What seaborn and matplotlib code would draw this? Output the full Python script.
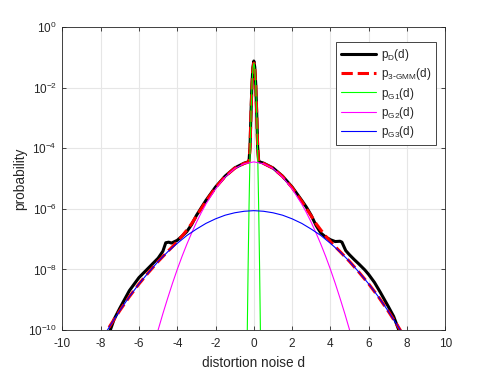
import numpy as np
import pandas as pd
import seaborn as sns
import matplotlib.pyplot as plt

d_meas = [-7.55, -7.3, -7.0, -6.5, -6.0, -5.5, -5.0, -4.75, -4.6, -4.45, -4.3, -4.0,
          -3.75, -3.5, -3.25, -3.0, -2.75, -2.5, -2.0, -1.5, -1.0, -0.5, -0.3, -0.25,
          -0.2, -0.15, -0.1, -0.05, 0.0, 0.05, 0.1, 0.15, 0.2, 0.25, 0.3, 0.5, 1.0,
          1.5, 2.0, 2.5, 2.75, 3.0, 3.25, 3.5, 3.75, 4.0, 4.25, 4.5, 4.6, 4.8, 5.0,
          5.25, 5.5, 5.8, 6.0, 6.3, 6.6, 7.0, 7.3, 7.6]
logp_meas = [-10.1, -9.65, -9.28, -8.70, -8.27, -7.95, -7.63, -7.40, -7.12, -7.10,
             -7.13, -7.04, -6.90, -6.75, -6.52, -6.22, -5.97, -5.72, -5.28, -4.92,
             -4.65, -4.49, -4.45, -4.40, -3.95, -2.85, -1.90, -1.33, -1.12, -1.33,
             -1.90, -2.85, -3.95, -4.40, -4.45, -4.49, -4.65, -4.92, -5.28, -5.72,
             -5.95, -6.22, -6.55, -6.80, -6.93, -7.02, -7.08, -7.07, -7.10, -7.38,
             -7.52, -7.68, -7.83, -8.02, -8.17, -8.43, -8.75, -9.20, -9.55, -10.05]

# 3-GMM fit (red dashed)
d_gmm = [-8, -7.5, -7, -6.5, -6, -5.5, -5, -4.5, -4.25, -4, -3.75, -3.5, -3.25, -3,
         -2.75, -2.5, -2, -1.5, -1, -0.5, -0.3, -0.25, -0.2, -0.15, -0.1, -0.05, 0,
         0.05, 0.1, 0.15, 0.2, 0.25, 0.3, 0.5, 1, 1.5, 2, 2.5, 2.75, 3, 3.25, 3.5,
         3.75, 4, 4.25, 4.5, 5, 5.5, 6, 6.5, 7, 7.5, 8]
logp_gmm = [-10.37, -9.85, -9.36, -8.90, -8.48, -8.10, -7.74, -7.41, -7.25, -7.08,
            -6.90, -6.70, -6.49, -6.24, -6.00, -5.75, -5.30, -4.93, -4.66, -4.50,
            -4.46, -4.44, -4.00, -2.87, -1.94, -1.38, -1.19, -1.38, -1.94, -2.87,
            -4.00, -4.44, -4.46, -4.50, -4.66, -4.93, -5.30, -5.75, -6.00, -6.24,
            -6.49, -6.70, -6.90, -7.08, -7.25, -7.41, -7.74, -8.10, -8.48, -8.90,
            -9.36, -9.85, -10.37]

# component 1 (green)
d_g1 = [-0.4, -0.35, -0.3, -0.25, -0.2, -0.15, -0.1, -0.05, 0, 0.05, 0.1, 0.15,
        0.2, 0.25, 0.3, 0.35, 0.4]
logp_g1 = [-13.19, -10.38, -7.94, -5.88, -4.19, -2.88, -1.94, -1.38, -1.19, -1.38,
           -1.94, -2.88, -4.19, -5.88, -7.94, -10.38, -13.19]

# component 2 (magenta)
d_g2 = [-5.25, -5, -4.75, -4.5, -4.25, -4, -3.75, -3.5, -3.25, -3, -2.75, -2.5, -2,
        -1.5, -1, -0.5, 0, 0.5, 1, 1.5, 2, 2.5, 2.75, 3, 3.25, 3.5, 3.75, 4, 4.25,
        4.5, 4.75, 5, 5.25]
logp_g2 = [-10.57, -10.00, -9.46, -8.95, -8.46, -8.00, -7.57, -7.17, -6.80, -6.45,
           -6.13, -5.84, -5.34, -4.95, -4.67, -4.51, -4.45, -4.51, -4.67, -4.95,
           -5.34, -5.84, -6.13, -6.45, -6.80, -7.17, -7.57, -8.00, -8.46, -8.95,
           -9.46, -10.00, -10.57]

# component 3 (blue)
d_g3 = [-8, -7.5, -7, -6.5, -6, -5.5, -5, -4.5, -4, -3.5, -3, -2.5, -2, -1.5, -1,
        -0.5, 0, 0.5, 1, 1.5, 2, 2.5, 3, 3.5, 4, 4.5, 5, 5.5, 6, 6.5, 7, 7.5, 8]
logp_g3 = [-10.37, -9.85, -9.36, -8.90, -8.48, -8.10, -7.74, -7.42, -7.14, -6.88,
           -6.67, -6.48, -6.33, -6.21, -6.13, -6.08, -6.06, -6.08, -6.13, -6.21,
           -6.33, -6.48, -6.67, -6.88, -7.14, -7.42, -7.74, -8.10, -8.48, -8.90,
           -9.36, -9.85, -10.37]

sns.set_theme(style="ticks")
plt.rcParams["font.family"] = ["Liberation Sans", "DejaVu Sans"]
plt.rcParams["mathtext.default"] = "regular"

fig = plt.figure(figsize=(4.91, 3.71), dpi=100)
ax = fig.add_axes([0.127, 0.1105, 0.780, 0.8165])

curves = [
    (d_meas, logp_meas, r"p$_D$(d)", "black", "-", 2.2),
    (d_gmm, logp_gmm, r"p$_{3\text{-}GMM}$(d)", "red", "--", 2.2),
    (d_g1, logp_g1, r"p$_{G1}$(d)", "#00ff00", "-", 0.8),
    (d_g2, logp_g2, r"p$_{G2}$(d)", "#ff00ff", "-", 0.8),
    (d_g3, logp_g3, r"p$_{G3}$(d)", "#0000ff", "-", 0.8),
]
for xs, ls_, lab, col, sty, lw in curves:
    df = pd.DataFrame({"d": xs, "p": 10.0 ** np.array(ls_)})
    sns.lineplot(data=df, x="d", y="p", ax=ax, color=col, linestyle=sty,
                 linewidth=lw, label=lab, sort=False)

ax.set_yscale("log")
ax.set_xlim(-10, 10)
ax.set_ylim(1e-10, 1)
ax.set_xticks(np.arange(-10, 11, 2))
ax.set_xticklabels([str(v) for v in range(-10, 11, 2)])
ax.set_yticks([10.0 ** k for k in range(-10, 1, 2)])
ax.set_yticks([], minor=True)
ax.grid(True, color="#e6e6e6", linewidth=0.8)
ax.set_axisbelow(True)
for s in ax.spines.values():
    s.set_color("#262626")
    s.set_linewidth(0.6)
ax.tick_params(direction="in", length=3, width=0.6, colors="#262626",
               labelsize=8.5, top=True, right=True, labelcolor="#262626")
ax.tick_params(axis="x", pad=6)
ax.tick_params(axis="y", pad=4)
ax.set_xlabel("distortion noise d", fontsize=9.8, color="#262626")
ax.set_ylabel("probability", fontsize=9.8, color="#262626")
ax.xaxis.set_label_coords(0.5, -0.085)
ax.yaxis.set_label_coords(-0.092, 0.5)

leg = ax.legend(loc="upper right", bbox_to_anchor=(0.975, 0.950), fontsize=8.5,
                frameon=True, fancybox=False, handlelength=3.0, borderaxespad=0,
                borderpad=0.4, labelspacing=0.28, handletextpad=0.4)
leg.get_frame().set_edgecolor("#262626")
leg.get_frame().set_linewidth(0.6)
leg.get_frame().set_alpha(1)

fig.savefig("out.png", dpi=100)
